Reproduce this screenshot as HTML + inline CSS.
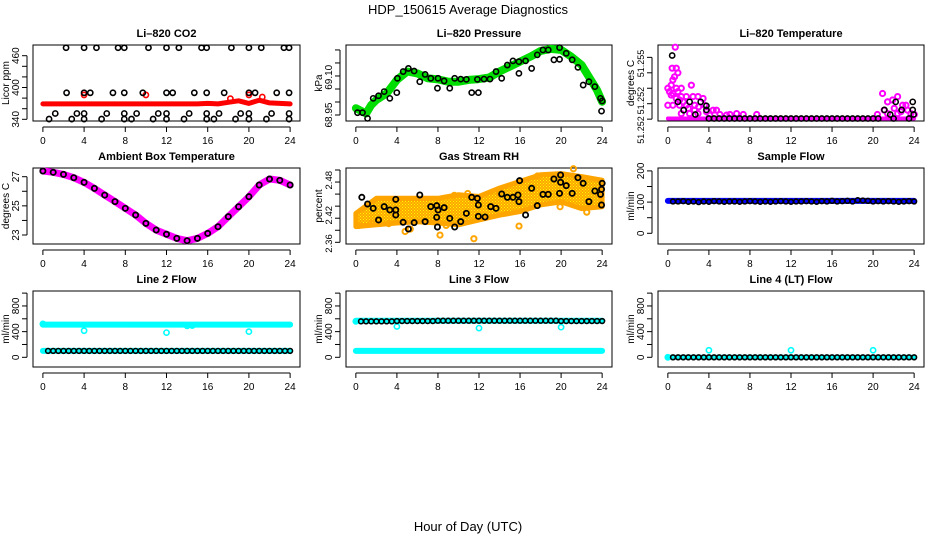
<!DOCTYPE html>
<html><head><meta charset="utf-8"><title>HDP_150615 Average Diagnostics</title>
<style>
html,body{margin:0;padding:0;background:#fff;}
svg{display:block;font-family:"Liberation Sans",Arial,sans-serif;}
</style></head>
<body>
<svg id="chart" width="936" height="540" viewBox="0 0 936 540" xmlns="http://www.w3.org/2000/svg">
<defs>
<pattern id="dots" width="3" height="3" patternUnits="userSpaceOnUse"><rect width="3" height="3" fill="#ffa500"/><rect x="0" y="0" width="1" height="1" fill="#ffff00"/><rect x="1.5" y="1.5" width="1" height="1" fill="#ffff00"/></pattern>
</defs>
<text x="468" y="14" text-anchor="middle" font-size="13">HDP_150615  Average Diagnostics</text>
<text x="468" y="531" text-anchor="middle" font-size="13">Hour of Day (UTC)</text>
</svg>
<script>
// ---------- data ----------
const hoursTick = [0,4,8,12,16,20,24];
const halfHours = [0.5,1,1.5,2,2.5,3,3.5,4,4.5,5,5.5,6,6.5,7,7.5,8,8.5,9,9.5,10,10.5,11,11.5,12,12.5,13,13.5,14,14.5,15,15.5,16,16.5,17,17.5,18,18.5,19,19.5,20,20.5,21,21.5,22,22.5,23,23.5,24];
const hourly = [0,1,2,3,4,5,6,7,8,9,10,11,12,13,14,15,16,17,18,19,20,21,22,23,24];

// CO2
const co2RedVals = [369,369,369,369,369,369,369,369,369,369,369,369,369,369,369,369,370,369,372,375,370,376,371,370,369];
const co2RedOutHours = [4,10,20,18.2,21.3];
const co2RedOutVals = [386,386,386,379,382];
const co2BlkHours = [2.25,4.0,5.2,7.3,7.9,10.25,12.0,13.2,15.4,15.9,18.3,20.0,21.2,23.4,23.9,
  2.3,4.0,4.6,6.8,7.9,9.7,12.0,12.6,14.7,15.9,17.6,20.0,20.6,22.7,23.9,
  1.2,3.3,4.0,6.2,7.9,9.1,11.2,12.0,14.2,15.9,17.1,19.2,20.0,22.2,23.9,
  0.6,2.8,4.0,5.7,7.9,8.6,10.7,12.0,13.7,15.9,16.6,18.7,20.0,21.7,23.9];
const co2BlkVals = [475,475,475,475,475,475,475,475,475,475,475,475,475,475,475,
  390,390,390,390,390,390,390,390,390,390,390,390,390,390,390,
  351,351,351,351,351,351,351,351,351,351,351,351,351,351,351,
  340.5,340.5,340.5,340.5,340.5,340.5,340.5,340.5,340.5,340.5,340.5,340.5,340.5,340.5,340.5];

// Pressure
const presHours = [0,1,1.5,2,3,4,5,6,7,8,9,10,11,12,13,14,15,16,17,18,19,20,21,22,23,23.5,24];
const presVals = [68.976,68.956,68.988,69.008,69.033,69.085,69.117,69.110,69.091,69.087,69.078,69.078,69.085,69.088,69.094,69.117,69.136,69.155,69.174,69.196,69.204,69.200,69.174,69.142,69.078,69.046,69.001];
const presBlkHours = [0.16,0.65,1.14,1.69,2.21,2.76,3.31,3.99,4.05,4.61,5.12,5.68,6.23,6.75,7.30,7.95,8.01,8.60,9.15,9.63,10.22,10.77,11.29,11.94,11.84,12.49,13.07,13.66,14.21,14.76,15.31,15.89,15.89,16.54,17.13,17.68,18.23,18.75,19.30,19.85,19.85,20.50,21.08,21.64,22.15,22.71,23.29,23.84,23.94,24.0];
const presBlkVals = [68.959,68.959,68.937,69.014,69.024,69.040,69.014,69.036,69.091,69.117,69.129,69.119,69.078,69.106,69.091,69.053,69.091,69.081,69.053,69.091,69.088,69.087,69.036,69.036,69.087,69.088,69.088,69.117,69.091,69.142,69.158,69.110,69.155,69.158,69.129,69.181,69.200,69.200,69.162,69.164,69.209,69.187,69.162,69.133,69.065,69.078,69.059,69.014,68.965,69.004];

// Li-820 temperature
const tempMagHours = [0.72,0.42,0.82,0.98,0,0.49,0.33,0.65,0.82,0.16,0.49,0.98,1.31,0,0.49,0.33,0.82,1.31,1.8,2.29,2.45,1.14,1.8,2.61,2.94,3.43,3.59,1.31,2.12,2.94,3.76,4.41,4.74,4.08,5.07,6.05,7.35,8.66,6.7,5.72,20.92,21.41,21.9,22.39,22.88,23.2,22.06,21.08,20.42,21.41,22.39,23.37,23.69,24.02,22.71,1.14,1.5,2.0,2.6,3.0];
const tempMagVals = [51.25433,51.25365,51.25365,51.25350,51.25300,51.25327,51.25310,51.25337,51.25300,51.25289,51.25283,51.25289,51.25300,51.25245,51.25245,51.25278,51.25267,51.25273,51.25273,51.25310,51.25273,51.25245,51.25245,51.25245,51.25273,51.25267,51.25245,51.25218,51.25218,51.25218,51.25224,51.25229,51.25229,51.25213,51.25215,51.25215,51.25215,51.25215,51.25218,51.25213,51.25283,51.25256,51.25262,51.25273,51.25245,51.25245,51.25235,51.25229,51.25215,51.25218,51.25218,51.25229,51.25218,51.25215,51.25224,51.25262,51.25256,51.25235,51.25229,51.25240];
const tempBlkHours = [4,4.5,5,5.5,6,6.5,7,7.5,8,8.5,9,9.5,10,10.5,11,11.5,12,12.5,13,13.5,14,14.5,15,15.5,16,16.5,17,17.5,18,18.5,19,19.5,20,20.5,22,23.5,0.42,0.98,1.54,2.12,2.68,3.2,3.76,3.76,21.1,21.67,22.2,22.78,23.86,23.86,23.95];
const tempBlkVals = [51.25202,51.25202,51.25202,51.25202,51.25202,51.25202,51.25202,51.25202,51.25202,51.25202,51.25202,51.25202,51.25202,51.25202,51.25202,51.25202,51.25202,51.25202,51.25202,51.25202,51.25202,51.25202,51.25202,51.25202,51.25202,51.25202,51.25202,51.25202,51.25202,51.25202,51.25202,51.25202,51.25202,51.25202,51.25202,51.25202,51.25406,51.25256,51.25229,51.25256,51.25215,51.25256,51.25243,51.25230,51.25230,51.25215,51.25256,51.25230,51.25256,51.25230,51.25215];

// Ambient box temperature
const ambVals = [27.39,27.30,27.16,26.93,26.61,26.20,25.74,25.29,24.83,24.37,23.80,23.34,23.05,22.77,22.61,22.77,23.11,23.57,24.26,24.94,25.63,26.43,26.84,26.75,26.43];

// Gas stream RH
const rhHours = [0,2,4,6,8,10,12,14,16,18,20,22,24];
const rhLow = [2.386,2.389,2.392,2.394,2.392,2.389,2.397,2.405,2.411,2.422,2.427,2.416,2.419];
const rhHigh = [2.408,2.433,2.433,2.433,2.433,2.439,2.436,2.450,2.461,2.472,2.474,2.469,2.463];
const rhOutHours = [0.3,1.5,4.8,5.3,8.2,9.6,10.9,11.5,14.0,15.9,17.7,19.9,21.2,22.5,8.8,3.2];
const rhOutVals = [2.388,2.392,2.378,2.382,2.372,2.438,2.441,2.366,2.443,2.387,2.470,2.419,2.482,2.410,2.388,2.391];
const rhBlkHours = [0.58,1.14,1.69,2.21,2.76,3.31,3.89,3.89,3.89,4.61,5.12,5.68,6.23,6.75,7.30,7.88,7.88,7.95,8.01,8.60,9.15,9.63,10.22,10.77,11.29,11.84,11.94,11.94,12.59,13.14,13.66,14.21,14.76,15.31,15.80,15.89,15.96,16.54,17.13,17.68,18.23,18.75,19.30,19.85,19.95,19.95,20.50,21.08,21.64,22.15,22.71,23.29,23.84,23.94,23.94,24.0];
const rhBlkVals = [2.4347,2.4236,2.4164,2.3971,2.4192,2.4137,2.4313,2.4137,2.4054,2.3932,2.3821,2.3926,2.4385,2.3943,2.4192,2.4208,2.4015,2.3854,2.4137,2.4175,2.3998,2.3854,2.3943,2.4081,2.4347,2.4330,2.4219,2.4031,2.4020,2.4192,2.4164,2.4402,2.4347,2.4347,2.4385,2.4275,2.4623,2.4054,2.4496,2.4208,2.4396,2.4396,2.4651,2.4413,2.4717,2.4596,2.4540,2.4413,2.4673,2.4579,2.4275,2.4452,2.4396,2.4219,2.4479,2.4579];

// Sample flow
const sampleLineHours = [0,24];
const sampleLineVals = [104,104];
const sampleBlkVals = [102,102,103,101,102,100,102,101,103,102,101,102,102,101,102,103,102,101,102,101,102,103,102,101,102,102,103,102,101,103,102,104,102,103,104,102,106,105,104,102,103,102,103,102,101,102,103,102];

// Line 2 flow
const l2HighHours = [0,24];
const l2HighVals = [510,510];
const l2LowHours = [0,24];
const l2LowVals = [100,100];
const l2OutHours = [0,4,12,20,14,14.5];
const l2OutVals = [520,415,385,400,490,495];
const l2BlkVals = [100,100,100,100,100,100,100,100,100,100,100,100,100,100,100,100,100,100,100,100,100,100,100,100,100,100,100,100,100,100,100,100,100,100,100,100,100,100,100,100,100,100,100,100,100,100,100,100];

// Line 3 flow
const l3HighHours = [0,24];
const l3HighVals = [570,570];
const l3LowHours = [0,24];
const l3LowVals = [100,100];
const l3OutHours = [0,4,12,20];
const l3OutVals = [560,480,455,470];
const l3BlkVals = [560,560,560,560,560,560,560,565,565,565,565,565,565,565,565,570,570,570,570,570,570,570,570,570,570,570,570,570,570,570,570,570,570,570,570,570,570,570,570,565,565,565,565,565,565,565,565,565];

// Line 4 flow
const l4LineHours = [0,24];
const l4LineVals = [0,0];
const l4OutHours = [0,4,12,20];
const l4OutVals = [0,110,110,110];
const l4BlkVals = [0,0,0,0,0,0,0,0,0,0,0,0,0,0,0,0,0,0,0,0,0,0,0,0,0,0,0,0,0,0,0,0,0,0,0,0,0,0,0,0,0,0,0,0,0,0,0,0];

// ---------- drawing ----------
const NS = "http://www.w3.org/2000/svg";
const svg = document.getElementById("chart");
const COLS = [[33,300],[346,612],[658,924]];
const ROWS = [[45,121],[168,244],[291,367]];

function mk(tag, attrs, parent){
  const e = document.createElementNS(NS, tag);
  for (const k in attrs) e.setAttribute(k, attrs[k]);
  (parent||svg).appendChild(e);
  return e;
}
function panel(c, r, ymin, ymax){
  const L = COLS[c][0], R = COLS[c][1], T = ROWS[r][0], B = ROWS[r][1];
  const W = R - L;
  return {L,R,T,B,
    x: h => L + W*(0.04/1.08 + h/24/1.08),
    y: v => B - (v - ymin)/(ymax - ymin)*(B - T)};
}
function axes(p, name, title, ytitle, yticks, ylabVals, ylabTxt, ylabSize){
  const g = mk("g", {});
  
  
  const box = mk("rect", {x:p.L, y:p.T, width:p.R-p.L, height:p.B-p.T, fill:"none", stroke:"#000", "stroke-width":1}, g);
  
  
  const t = mk("text", {x:(p.L+p.R)/2, y:p.T-8, "text-anchor":"middle", "font-size":11, "font-weight":"bold"}, g);
  t.textContent = title;
  
  
  const yt = mk("text", {x:0, y:0, "text-anchor":"middle", "font-size":10, transform:`translate(${p.L-24},${(p.T+p.B)/2}) rotate(-90)`}, g);
  yt.textContent = ytitle;
  
  
  const xs = hoursTick.map(p.x);
  mk("line", {x1:xs[0], x2:xs[xs.length-1], y1:p.B+6, y2:p.B+6, stroke:"#000"}, g);
  hoursTick.forEach(h => {
    const X = p.x(h);
    mk("line", {x1:X, x2:X, y1:p.B+6, y2:p.B+11, stroke:"#000"}, g);
    const tl = mk("text", {x:X, y:p.B+23, "text-anchor":"middle", "font-size":10}, g);
    tl.textContent = String(h);
    
    
  });
  const ys = yticks.map(p.y);
  mk("line", {x1:p.L-6, x2:p.L-6, y1:Math.min(...ys), y2:Math.max(...ys), stroke:"#000"}, g);
  yticks.forEach(v => {
    const Y = p.y(v);
    mk("line", {x1:p.L-11, x2:p.L-6, y1:Y, y2:Y, stroke:"#000"}, g);
  });
  ylabVals.forEach((v, i) => {
    const Y = p.y(v);
    const yl = mk("text", {x:0, y:0, "text-anchor":"middle", "font-size":ylabSize||10, transform:`translate(${p.L-14},${Y}) rotate(-90)`}, g);
    yl.textContent = ylabTxt[i];
    
    
  });
}
function pts(p, hs, vs, color, name, r, sw){
  const g = mk("g", {});
  
  
  hs.forEach((h, i) => {
    const c = mk("circle", {cx:p.x(h), cy:p.y(vs[i]), r:r||2.6, fill:"none", stroke:color, "stroke-width":sw||1.6}, g);
    
    
  });
}
function band(p, hs, vs, color, w, name){
  const d = hs.map((h, i) => (i ? "L" : "M") + p.x(h).toFixed(1) + "," + p.y(vs[i]).toFixed(1)).join(" ");
  const e = mk("path", {d, fill:"none", stroke:color, "stroke-width":w, "stroke-linecap":"round", "stroke-linejoin":"round"});
  
  
}

// Panel 1: CO2
let p = panel(0, 0, 336.8, 480.2);
axes(p, "co2", "Li\u2013820 CO2", "Licor ppm", [340,360,380,400,420,440,460], [340,400,460], ["340","400","460"]);
band(p, hourly, co2RedVals, "#ff0000", 5, "co2-red-series");
pts(p, co2RedOutHours, co2RedOutVals, "#ff0000", "co2-red-outliers");
pts(p, co2BlkHours, co2BlkVals, "#000", "co2-black-series");

// Panel 2: Pressure
p = panel(1, 0, 68.927, 69.219);
axes(p, "pressure", "Li\u2013820 Pressure", "kPa", [68.95,69.00,69.05,69.10,69.15,69.20], [68.95,69.095], ["68.95","69.10"]);
band(p, presHours, presVals, "#00dd00", 8, "pressure-green-series");
pts(p, presBlkHours, presBlkVals, "#000", "pressure-black-series");

// Panel 3: Li-820 Temperature
p = panel(2, 0, 51.25194, 51.25440);
axes(p, "li820-temp", "Li\u2013820 Temperature", "degrees C", [51.2520,51.2525,51.2530,51.2535,51.2540], [51.25165,51.2526,51.2538], ["51.252","51.252","51.255"], 9);
band(p, [0,24], [51.25202,51.25202], "#ff00ff", 4, "li820-temp-magenta-baseline");
pts(p, tempMagHours, tempMagVals, "#ff00ff", "li820-temp-magenta-series", 2.6, 2);
pts(p, tempBlkHours, tempBlkVals, "#000", "li820-temp-black-series");

// Panel 4: Ambient box temperature
p = panel(0, 1, 22.383, 27.597);
axes(p, "ambient-temp", "Ambient Box Temperature", "degrees C", [23,24,25,26,27], [23,25,27], ["23","25","27"]);
band(p, hourly, ambVals, "#ff00ff", 7, "ambient-temp-magenta-series");
pts(p, hourly, ambVals, "#000", "ambient-temp-black-series", 2.6, 1.8);

// Panel 5: Gas stream RH
p = panel(1, 1, 2.3572, 2.4833);
axes(p, "gas-rh", "Gas Stream RH", "percent", [2.36,2.38,2.40,2.42,2.44,2.46,2.48], [2.358,2.405,2.463], ["2.36","2.42","2.48"], 9.5);
{
  const up = rhHours.map((h, i) => p.x(h).toFixed(1) + "," + p.y(rhHigh[i]).toFixed(1));
  const lo = rhHours.map((h, i) => p.x(h).toFixed(1) + "," + p.y(rhLow[i]).toFixed(1)).reverse();
  const poly = mk("polygon", {points: up.concat(lo).join(" "), fill:"url(#dots)", stroke:"#ffa500", "stroke-width":5, "stroke-linejoin":"round"});
  
  
}
pts(p, rhOutHours, rhOutVals, "#ffa500", "gas-rh-orange-outliers", 2.6, 2);
pts(p, rhBlkHours, rhBlkVals, "#000", "gas-rh-black-series", 2.6, 1.8);

// Panel 6: Sample flow
p = panel(2, 1, -34.3, 209.3);
axes(p, "sample-flow", "Sample Flow", "ml/min", [0,50,100,150,200], [0,100,200], ["0","100","200"]);
band(p, sampleLineHours, sampleLineVals, "#0000ff", 6, "sample-flow-blue-series");
pts(p, halfHours, sampleBlkVals, "#000", "sample-flow-black-series", 2.4, 1.6);

// Panel 7: Line 2 flow
p = panel(0, 2, -151, 1033);
axes(p, "line2-flow", "Line 2 Flow", "ml/min", [0,200,400,600,800,1000], [0,400,800], ["0","400","800"]);
band(p, l2HighHours, l2HighVals, "#00ffff", 6, "line2-cyan-high-series");
band(p, l2LowHours, l2LowVals, "#00ffff", 6, "line2-cyan-low-series");
pts(p, l2OutHours, l2OutVals, "#00ffff", "line2-cyan-outliers");
pts(p, halfHours, l2BlkVals, "#000", "line2-black-series", 2.4, 1.6);

// Panel 8: Line 3 flow
p = panel(1, 2, -151, 1033);
axes(p, "line3-flow", "Line 3 Flow", "ml/min", [0,200,400,600,800,1000], [0,400,800], ["0","400","800"]);
band(p, l3HighHours, l3HighVals, "#00ffff", 6, "line3-cyan-high-series");
band(p, l3LowHours, l3LowVals, "#00ffff", 6, "line3-cyan-low-series");
pts(p, l3OutHours, l3OutVals, "#00ffff", "line3-cyan-outliers");
pts(p, halfHours, l3BlkVals, "#000", "line3-black-series", 2.4, 1.6);

// Panel 9: Line 4 flow
p = panel(2, 2, -151, 1033);
axes(p, "line4-flow", "Line 4 (LT) Flow", "ml/min", [0,200,400,600,800,1000], [0,400,800], ["0","400","800"]);
band(p, l4LineHours, l4LineVals, "#00ffff", 5, "line4-cyan-series");
pts(p, l4OutHours, l4OutVals, "#00ffff", "line4-cyan-outliers");
pts(p, halfHours, l4BlkVals, "#000", "line4-black-series", 2.4, 1.6);
</script>
</body></html>
